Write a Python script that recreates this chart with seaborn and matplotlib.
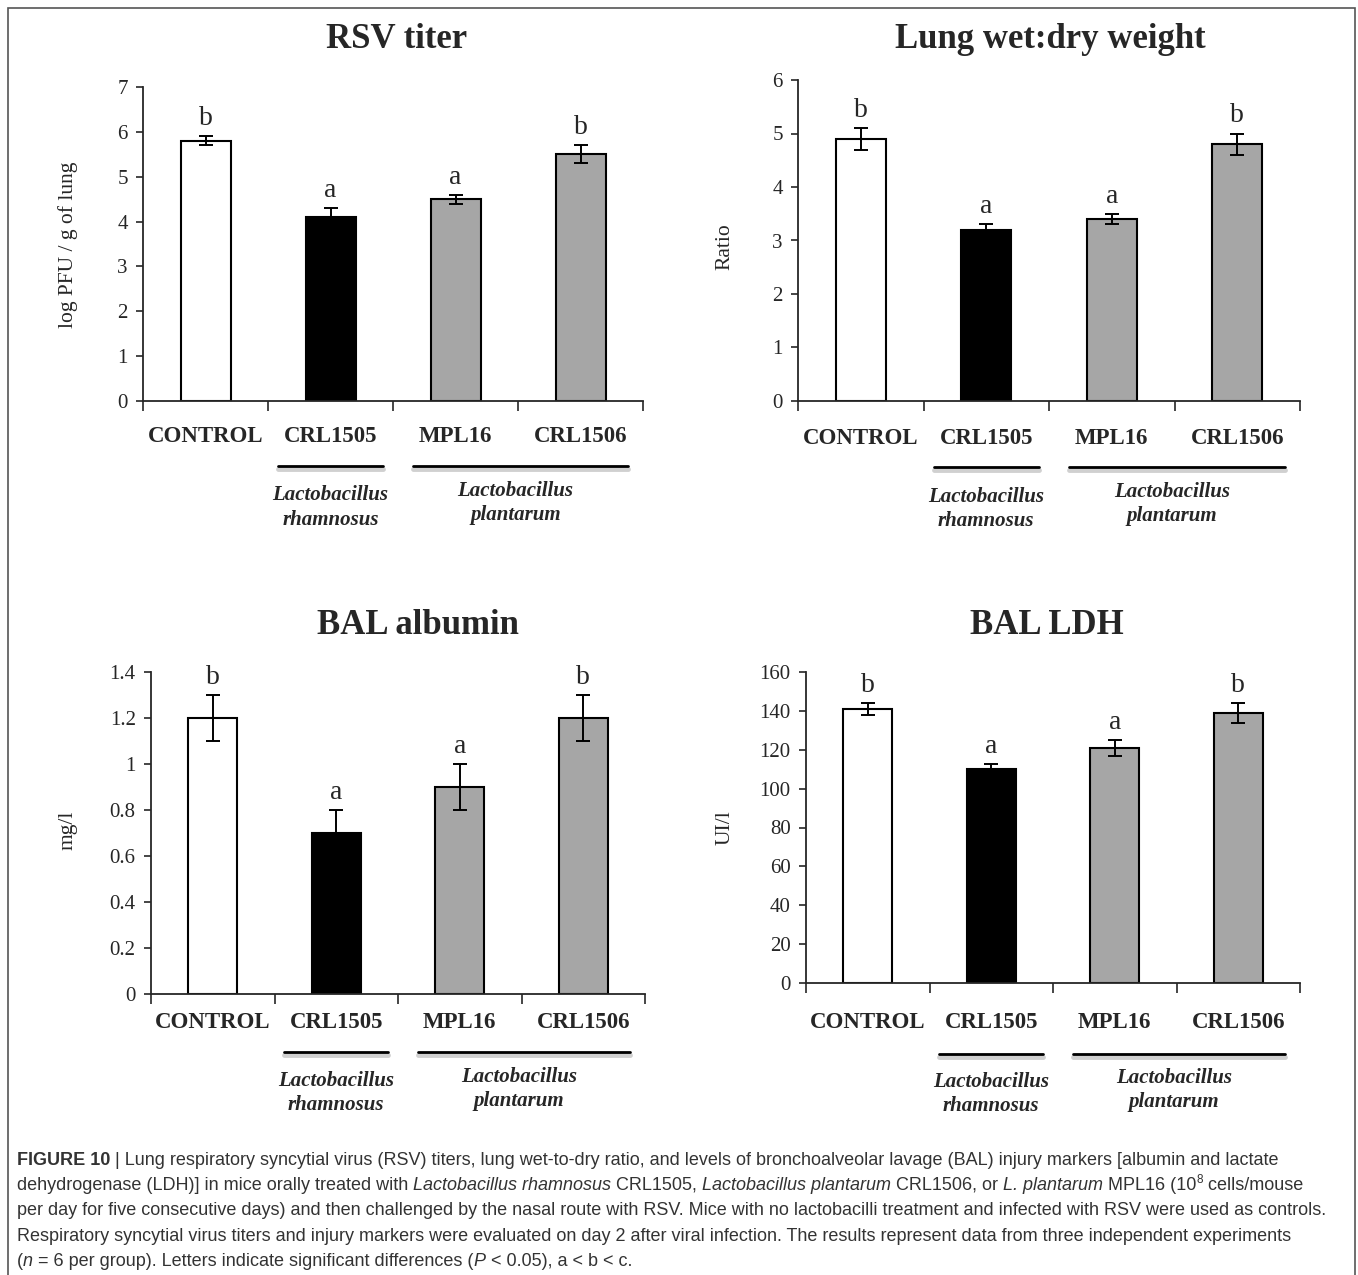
import matplotlib
matplotlib.use("Agg")
import matplotlib.pyplot as plt
import seaborn as sns
from matplotlib.patches import Rectangle
from matplotlib.transforms import blended_transform_factory

# data
groups = ["CONTROL", "CRL1505", "MPL16", "CRL1506"]
bar_colors = ["white", "black", "#a6a6a6", "#a6a6a6"]

rsv_titer = [5.8, 4.1, 4.5, 5.5]
rsv_err = [0.1, 0.2, 0.1, 0.2]
rsv_letters = ["b", "a", "a", "b"]

wet_dry = [4.9, 3.2, 3.4, 4.8]
wet_dry_err = [0.2, 0.1, 0.1, 0.2]
wet_dry_letters = ["b", "a", "a", "b"]

albumin = [1.2, 0.7, 0.9, 1.2]
albumin_err = [0.1, 0.1, 0.1, 0.1]
albumin_letters = ["b", "a", "a", "b"]

ldh = [141, 110, 121, 139]
ldh_err = [3, 2.5, 4, 5]
ldh_letters = ["b", "a", "a", "b"]

W, H = 1358, 1275
sns.set_style("ticks")
plt.rcParams["font.family"] = ["Liberation Serif", "DejaVu Serif"]


def fx(px):
    return px / W


def fy(py):
    return 1 - py / H


fig = plt.figure(figsize=(W / 100, H / 100), dpi=100)

panels = [
    dict(title="RSV titer", ylabel="log PFU / g of lung", vals=rsv_titer, err=rsv_err,
         letters=rsv_letters, ymax=7, yticks=[0, 1, 2, 3, 4, 5, 6, 7],
         box=(143, 87, 643, 401), tpos=(397, 40), ylpos=(68, 245),
         cat_y=437, line_y=466, left_y=(495, 520), right_y=(491, 515)),
    dict(title="Lung wet:dry weight", ylabel="Ratio", vals=wet_dry, err=wet_dry_err,
         letters=wet_dry_letters, ymax=6, yticks=[0, 1, 2, 3, 4, 5, 6],
         box=(798, 80, 1300, 401), tpos=(1050, 40), ylpos=(725, 247),
         cat_y=438, line_y=467, left_y=(497, 521), right_y=(492, 516)),
    dict(title="BAL albumin", ylabel="mg/l", vals=albumin, err=albumin_err,
         letters=albumin_letters, ymax=1.4, yticks=[0, 0.2, 0.4, 0.6, 0.8, 1, 1.2, 1.4],
         box=(151, 672, 645, 994), tpos=(418, 625), ylpos=(68, 830),
         cat_y=1022, line_y=1052, left_y=(1081, 1105), right_y=(1077, 1101)),
    dict(title="BAL LDH", ylabel="UI/l", vals=ldh, err=ldh_err,
         letters=ldh_letters, ymax=160, yticks=[0, 20, 40, 60, 80, 100, 120, 140, 160],
         box=(806, 672, 1300, 983), tpos=(1047, 625), ylpos=(725, 828),
         cat_y=1023, line_y=1054, left_y=(1082, 1106), right_y=(1078, 1102)),
]

for p in panels:
    l, t, r, b = p["box"]
    ax = fig.add_axes([fx(l), fy(b), fx(r) - fx(l), (b - t) / H])
    sns.barplot(x=groups, y=p["vals"], hue=groups, palette=bar_colors, legend=False,
                width=0.4, edgecolor="black", linewidth=1.5, ax=ax)
    ax.errorbar(x=range(4), y=p["vals"], yerr=p["err"], fmt="none", ecolor="black",
                elinewidth=1.4, capsize=5, capthick=1.4, zorder=5)
    for i, (v, e, let) in enumerate(zip(p["vals"], p["err"], p["letters"])):
        ax.annotate(let, (i, v + e), xytext=(0, 8), textcoords="offset points",
                    ha="center", va="baseline", fontsize=20)
    ax.set_xlim(-0.5, 3.5)
    ax.set_ylim(0, p["ymax"])
    ax.set_yticks(p["yticks"])
    ax.set_yticklabels([f"{v:g}" for v in p["yticks"]], fontsize=15)
    ax.set_xticks([-0.5, 0.5, 1.5, 2.5, 3.5])
    ax.set_xticklabels([])
    ax.set_xlabel("")
    ax.set_ylabel("")
    ax.tick_params(axis="y", direction="out", length=5, width=1.2, pad=6)
    ax.tick_params(axis="x", direction="out", length=7, width=1.2)
    sns.despine(ax=ax)
    for s in ["left", "bottom"]:
        ax.spines[s].set_linewidth(1.3)

    tr = blended_transform_factory(ax.transData, fig.transFigure)
    for i, g in enumerate(groups):
        fig.text(i, fy(p["cat_y"]), g, transform=tr, ha="center", va="center",
                 fontsize=16.5, fontweight="bold")
    # group brackets with a soft shadow
    for x0, x1 in [(0.58, 1.42), (1.66, 3.38)]:
        fig.add_artist(plt.Line2D([x0, x1], [fy(p["line_y"] + 3)] * 2, transform=tr,
                                  color="#d0d0d0", lw=3.5))
        fig.add_artist(plt.Line2D([x0, x1], [fy(p["line_y"])] * 2, transform=tr,
                                  color="black", lw=2))
    for txt, yy, xc in [("Lactobacillus", p["left_y"][0], 1.0),
                        ("rhamnosus", p["left_y"][1], 1.0),
                        ("Lactobacillus", p["right_y"][0], 2.48),
                        ("plantarum", p["right_y"][1], 2.48)]:
        fig.text(xc, fy(yy), txt, transform=tr, ha="center", va="center",
                 fontsize=15, fontweight="bold", fontstyle="italic")

    fig.text(fx(p["tpos"][0]), fy(p["tpos"][1]), p["title"], ha="center", va="center",
             fontsize=25, fontweight="bold")
    fig.text(fx(p["ylpos"][0]), fy(p["ylpos"][1]), p["ylabel"], ha="center", va="center",
             rotation=90, fontsize=15.5)

# caption: each line is a list of (text, style) pieces
B, I, N, SUP = "bold", "italic", "normal", "sup"
caption = [
    [("FIGURE 10", B), (" | Lung respiratory syncytial virus (RSV) titers, lung wet-to-dry ratio, and levels of bronchoalveolar lavage (BAL) injury markers [albumin and lactate", N)],
    [("dehydrogenase (LDH)] in mice orally treated with ", N), ("Lactobacillus rhamnosus", I),
     (" CRL1505, ", N), ("Lactobacillus plantarum", I), (" CRL1506, or ", N),
     ("L. plantarum", I), (" MPL16 (10", N), ("8", SUP), (" cells/mouse", N)],
    [("per day for five consecutive days) and then challenged by the nasal route with RSV. Mice with no lactobacilli treatment and infected with RSV were used as controls.", N)],
    [("Respiratory syncytial virus titers and injury markers were evaluated on day 2 after viral infection. The results represent data from three independent experiments", N)],
    [("(", N), ("n", I), (" = 6 per group). Letters indicate significant differences (", N),
     ("P", I), (" < 0.05), a < b < c.", N)],
]
cap_y = [1160, 1185, 1210, 1236, 1261]
renderer = fig.canvas.get_renderer()
for parts, yy in zip(caption, cap_y):
    x = fx(17)
    for txt, style in parts:
        kw = dict(family="Liberation Sans", color="#333333", fontsize=13, va="baseline")
        y = fy(yy + 5)
        if style == B:
            kw["fontweight"] = "bold"
        elif style == I:
            kw["fontstyle"] = "italic"
        elif style == SUP:
            kw["fontsize"] = 8.5
            y = fy(yy - 2)
        t = fig.text(x, y, txt, ha="left", **kw)
        x += t.get_window_extent(renderer).width / W

fig.add_artist(Rectangle((fx(8), fy(1300)), fx(1355) - fx(8), (1300 - 8) / H,
                         transform=fig.transFigure, fill=False, ec="#555555", lw=1.2))

fig.savefig("out.png", dpi=100)
